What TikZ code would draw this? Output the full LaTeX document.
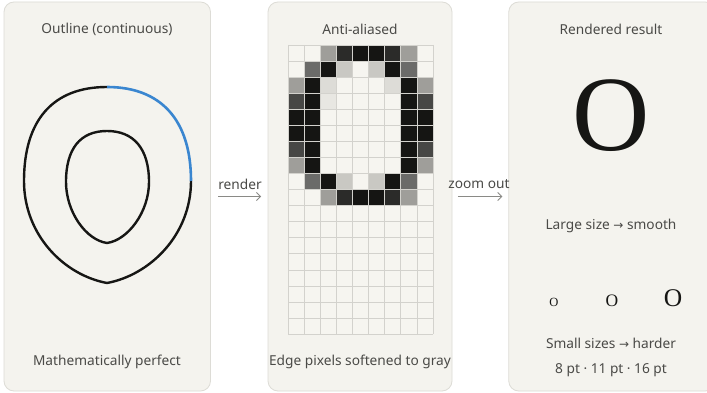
\documentclass[tikz,border=0pt]{standalone}
\usepackage{fontspec}
\setmainfont{Noto Sans}
\newfontfamily\serifO{Liberation Serif}
\newfontfamily\arrowfont{DejaVu Sans}
\usetikzlibrary{arrows.meta}
\definecolor{panelbg}{HTML}{F4F3EE}
\definecolor{panelbd}{HTML}{DDDCD6}
\definecolor{txt}{HTML}{4A4A47}
\definecolor{conncol}{HTML}{8A8A86}
\definecolor{ink}{HTML}{161614}
\definecolor{bluearc}{HTML}{3A86D0}
\definecolor{gridcol}{HTML}{D3D2CD}
\definecolor{pixW}{HTML}{F6F5F0}
\definecolor{pixK}{HTML}{151513}
\definecolor{pixD}{HTML}{2B2B29}
\definecolor{pixM}{HTML}{6B6B69}
\definecolor{pixG}{HTML}{9F9E9A}
\definecolor{pixE}{HTML}{474745}
\definecolor{pixL}{HTML}{C9C8C3}
\definecolor{pixV}{HTML}{DDDCD7}
\definecolor{pixU}{HTML}{E8E7E2}
\tikzset{
  panel/.style={draw=panelbd, fill=panelbg, rounded corners=10pt, line width=0.8pt, inner sep=0pt},
  label/.style={text=txt, font=\fontsize{13.7}{16}\selectfont, inner sep=0pt},
  conn/.style={draw=conncol, line width=0.9pt, -{Straight Barb[length=4pt,width=8pt]}},
  outline/.style={draw=ink, line width=2.4pt},
  gridline/.style={draw=gridcol, line width=0.6pt},
}
\newcommand{\rarr}{{\arrowfont\fontsize{12}{14}\selectfont →}}
\begin{document}
\begin{tikzpicture}[x=1pt,y=-1pt]
\useasboundingbox (0,0) rectangle (707,393);
\fill[white] (0,0) rectangle (707,393);
% panels
\node[panel, minimum width=206.5pt, minimum height=389pt] (p1) at (107.25,196.5) {};
\node[panel, minimum width=184pt, minimum height=389pt] (p2) at (360,196.5) {};
\node[panel, minimum width=206.5pt, minimum height=389pt] (p3) at (612,196.5) {};
% titles
\node[label] (t1) at (107,29) {Outline (continuous)};
\node[label] (t2) at (360,29) {Anti-aliased};
\node[label] (t3) at (611,29) {Rendered result};
% captions
\node[label] (c1) at (107,362) {Mathematically perfect};
\node[label] (c2) at (360,362) {Edge pixels softened to gray};
\node[label] (c3a) at (611,226) {Large size \rarr{} smooth};
\node[label] (c3b) at (611,343) {Small sizes \rarr{} harder};
\node[label] (c3c) at (611,370) {8 pt · 11 pt · 16 pt};
% outline glyph
\draw[outline] (107,283) .. controls (150,275) and (191,235) .. (191,181);
\draw[outline] (107,283) .. controls (64,275) and (24,235) .. (24,181)
   .. controls (24,120) and (53,87) .. (107,87);
\draw[draw=bluearc, line width=2.6pt] (107,87) .. controls (161,87) and (191,120) .. (191,181);
\draw[outline] (107,131) .. controls (134,131) and (149,149) .. (149,182)
   .. controls (149,212) and (128,240) .. (107,243)
   .. controls (86,240) and (66,212) .. (66,182)
   .. controls (66,149) and (80,131) .. (107,131) -- cycle;
% pixel grid
\foreach \r/\rowlist in {
  0/{W,W,G,D,K,K,D,G,W},
  1/{W,M,K,L,W,L,K,M,W},
  2/{G,K,V,W,W,W,V,K,G},
  3/{E,K,U,W,W,W,W,K,E},
  4/{K,K,W,W,W,W,W,K,K},
  5/{K,K,W,W,W,W,W,K,K},
  6/{E,K,W,W,W,W,W,K,E},
  7/{G,K,W,W,W,W,W,K,G},
  8/{W,M,K,L,W,L,K,M,W},
  9/{W,W,G,D,K,K,D,G,W}} {
  \foreach \cc [count=\ci from 0] in \rowlist {
    \fill[pix\cc] ({288+\ci*16.1},{45+\r*16.06}) rectangle ++(16.1,16.06);
  }
}
\foreach \r in {10,...,17} {
  \fill[pixW] (288,{45+\r*16.06}) rectangle ++(144.9,16.06);
}
\foreach \i in {0,...,9} {
  \draw[gridline] ({288+\i*16.1},45) -- ({288+\i*16.1},334);
}
\foreach \j in {0,...,18} {
  \draw[gridline] (288,{45+\j*16.06}) -- (432.9,{45+\j*16.06});
}
% redraw dark pixels over grid lines
\foreach \r/\rowlist in {
  0/{W,W,G,D,K,K,D,G,W},
  1/{W,M,K,L,W,L,K,M,W},
  2/{G,K,V,W,W,W,V,K,G},
  3/{E,K,U,W,W,W,W,K,E},
  4/{K,K,W,W,W,W,W,K,K},
  5/{K,K,W,W,W,W,W,K,K},
  6/{E,K,W,W,W,W,W,K,E},
  7/{G,K,W,W,W,W,W,K,G},
  8/{W,M,K,L,W,L,K,M,W},
  9/{W,W,G,D,K,K,D,G,W}} {
  \foreach \cc [count=\ci from 0] in \rowlist {
    \ifx\cc K \fill[pixK] ({288+\ci*16.1},{45+\r*16.06}) rectangle ++(16.1,16.06);\fi
    \ifx\cc D \fill[pixD] ({288+\ci*16.1},{45+\r*16.06}) rectangle ++(16.1,16.06);\fi
  }
}
% rendered O's
\node[anchor=base, text=ink, inner sep=0pt] (bigO) at (611.5,150.5) {\serifO\fontsize{107}{107}\selectfont O};
\node[anchor=base, text=ink, inner sep=0pt] (o8) at (554,306.5) {\serifO\fontsize{12.5}{13}\selectfont O};
\node[anchor=base, text=ink, inner sep=0pt] (o11) at (612,306.5) {\serifO\fontsize{17.5}{18}\selectfont O};
\node[anchor=base, text=ink, inner sep=0pt] (o16) at (673,306.5) {\serifO\fontsize{25.5}{26}\selectfont O};
% connectors
\draw[conn, shorten <=7.5pt, shorten >=6.5pt] (p1.east) -- (p2.west);
\draw[conn, shorten <=5.5pt, shorten >=6pt] (p2.east) -- (p3.west);
\node[label] (l1) at (240,184) {render};
\node[label] (l2) at (479,184) {zoom out};
\end{tikzpicture}
\end{document}
